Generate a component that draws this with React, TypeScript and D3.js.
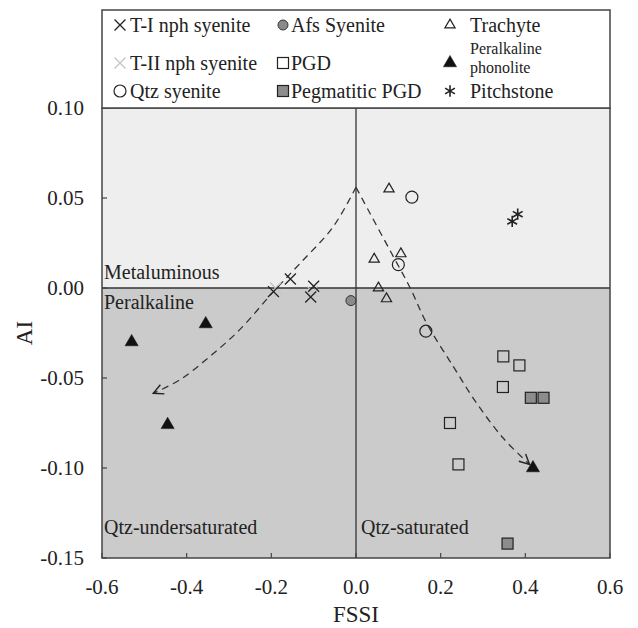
import React from "react";
import * as d3 from "d3";

// ---- data ----
const t1X = [-0.195, -0.155, -0.1, -0.107];
const t1Y = [-0.002, 0.005, 0.001, -0.005];
const t2X = [-0.19, -0.103];
const t2Y = [0.0, -0.002];
const afsX = [-0.012];
const afsY = [-0.007];
const qtzX = [0.132, 0.1, 0.165];
const qtzY = [0.0505, 0.013, -0.024];
const pgdX = [0.348, 0.386, 0.347, 0.222, 0.242];
const pgdY = [-0.038, -0.043, -0.055, -0.075, -0.098];
const pegX = [0.413, 0.443, 0.358];
const pegY = [-0.061, -0.061, -0.142];
const traX = [0.078, 0.043, 0.106, 0.053, 0.072];
const traY = [0.055, 0.016, 0.019, 0.0, -0.006];
const phoX = [-0.355, -0.53, -0.445, 0.418];
const phoY = [-0.02, -0.03, -0.076, -0.1];
const pitX = [0.382, 0.369];
const pitY = [0.041, 0.037];

const leftTrendX = [0.0, -0.054, -0.132, -0.195, -0.274, -0.345, -0.416, -0.479];
const leftTrendY = [0.056, 0.034, 0.0137, -0.002, -0.023, -0.038, -0.051, -0.0585];
const rightTrendX = [0.0, 0.033, 0.084, 0.128, 0.167, 0.23, 0.285, 0.348, 0.41];
const rightTrendY = [0.056, 0.0415, 0.0193, 0.0, -0.0196, -0.0437, -0.064, -0.0835, -0.098];

const xTicks = [-0.6, -0.4, -0.2, 0.0, 0.2, 0.4, 0.6];
const yTicks = [0.1, 0.05, 0.0, -0.05, -0.1, -0.15];

const W = 638;
const H = 628;
const L = 102, R = 610, T = 108, B = 558;
const FONT = "'Liberation Serif', 'Times New Roman', serif";

const x = d3.scaleLinear().domain([-0.6, 0.6]).range([L, R]);
const y = d3.scaleLinear().domain([-0.15, 0.1]).range([B, T]);

type Kind = "x1" | "x2" | "afs" | "qtz" | "pgd" | "peg" | "tra" | "pho" | "pit";

function Marker({ kind, cx, cy }: { kind: Kind; cx: number; cy: number }) {
  const tr = `translate(${cx},${cy})`;
  switch (kind) {
    case "x1":
      return <path transform={tr} d={d3.symbol(d3.symbolTimes, 80)()!} fill="none" stroke="#222" strokeWidth={1.3} />;
    case "x2":
      return <path transform={tr} d={d3.symbol(d3.symbolTimes, 80)()!} fill="none" stroke="#c4c4c4" strokeWidth={1.3} />;
    case "afs":
      return <circle cx={cx} cy={cy} r={5} fill="#8a8a8a" stroke="#333" strokeWidth={1} />;
    case "qtz":
      return <circle cx={cx} cy={cy} r={6} fill="none" stroke="#222" strokeWidth={1.2} />;
    case "pgd":
      return <rect x={cx - 5.5} y={cy - 5.5} width={11} height={11} fill="none" stroke="#222" strokeWidth={1.2} />;
    case "peg":
      return <rect x={cx - 5.5} y={cy - 5.5} width={11} height={11} fill="#8c8c8c" stroke="#222" strokeWidth={1.2} />;
    case "tra":
      return <path transform={tr} d={d3.symbol(d3.symbolTriangle2, 75)()!} fill="none" stroke="#222" strokeWidth={1.2} />;
    case "pho":
      return <path transform={tr} d={d3.symbol(d3.symbolTriangle, 75)()!} fill="#111" stroke="#111" strokeWidth={0.5} />;
    case "pit":
      return <path transform={tr} d={d3.symbol(d3.symbolAsterisk, 90)()!} fill="none" stroke="#222" strokeWidth={1.6} />;
  }
  return null;
}

const series: { kind: Kind; xs: number[]; ys: number[] }[] = [
  { kind: "x2", xs: t2X, ys: t2Y },
  { kind: "x1", xs: t1X, ys: t1Y },
  { kind: "afs", xs: afsX, ys: afsY },
  { kind: "qtz", xs: qtzX, ys: qtzY },
  { kind: "pgd", xs: pgdX, ys: pgdY },
  { kind: "peg", xs: pegX, ys: pegY },
  { kind: "tra", xs: traX, ys: traY },
  { kind: "pho", xs: phoX, ys: phoY },
  { kind: "pit", xs: pitX, ys: pitY },
];

const legendItems: { kind: Kind; label: string[]; col: number; row: number }[] = [
  { kind: "x1", label: ["T-I nph syenite"], col: 0, row: 0 },
  { kind: "x2", label: ["T-II nph syenite"], col: 0, row: 1 },
  { kind: "qtz", label: ["Qtz syenite"], col: 0, row: 2 },
  { kind: "afs", label: ["Afs Syenite"], col: 1, row: 0 },
  { kind: "pgd", label: ["PGD"], col: 1, row: 1 },
  { kind: "peg", label: ["Pegmatitic PGD"], col: 1, row: 2 },
  { kind: "tra", label: ["Trachyte"], col: 2, row: 0 },
  { kind: "pho", label: ["Peralkaline", "phonolite"], col: 2, row: 1 },
  { kind: "pit", label: ["Pitchstone"], col: 2, row: 2 },
];
const colMarkX = [120, 283, 450];
const colTextX = [130, 291, 470];
const rowY = [25, 63, 91];

export default function App() {
  const line = d3
    .line<[number, number]>()
    .x((d) => x(d[0]))
    .y((d) => y(d[1]))
    .curve(d3.curveCatmullRom.alpha(0.5));
  const leftPts = leftTrendX.map((v, i) => [v, leftTrendY[i]] as [number, number]);
  const rightPts = rightTrendX.map((v, i) => [v, rightTrendY[i]] as [number, number]);

  return (
    <svg
      width={W}
      height={H}
      style={{ position: "absolute", left: 0, top: 0, background: "#fff" }}
      fontFamily={FONT}
    >
      <defs>
        <marker id="arr" viewBox="0 0 12 12" refX="11" refY="6" markerWidth="12" markerHeight="12" markerUnits="userSpaceOnUse" orient="auto">
          <path d="M1,1 L11,6 L1,11" fill="none" stroke="#222" strokeWidth={1.4} />
        </marker>
      </defs>
      {/* backgrounds */}
      <rect x={L} y={T} width={R - L} height={y(0) - T} fill="#eeeeee" />
      <rect x={L} y={y(0)} width={R - L} height={B - y(0)} fill="#cbcbcb" />

      {/* zero lines */}
      <line x1={x(0)} x2={x(0)} y1={T} y2={B} stroke="#333" strokeWidth={1.3} />
      <line x1={L} x2={R} y1={y(0)} y2={y(0)} stroke="#333" strokeWidth={1.3} />

      {/* trend lines */}
      <path d={line(leftPts)!} fill="none" stroke="#333" strokeWidth={1.3} strokeDasharray="7,5" markerEnd="url(#arr)" />
      <path d={line(rightPts)!} fill="none" stroke="#333" strokeWidth={1.3} strokeDasharray="7,5" markerEnd="url(#arr)" />

      {/* points */}
      {series.map((s) =>
        s.xs.map((v, i) => <Marker key={s.kind + i} kind={s.kind} cx={x(v)} cy={y(s.ys[i])} />)
      )}

      {/* region labels */}
      <g fontSize={20} fill="#222">
        <text x={L + 2} y={y(0) - 9}>Metaluminous</text>
        <text x={L + 2} y={y(0) + 21}>Peralkaline</text>
        <text x={L + 2} y={534}>Qtz-undersaturated</text>
        <text x={x(0) + 5} y={534}>Qtz-saturated</text>
      </g>

      {/* frame */}
      <rect x={L} y={T} width={R - L} height={B - T} fill="none" stroke="#444" strokeWidth={1.5} />

      {/* ticks */}
      {xTicks.map((t) => (
        <g key={"xt" + t}>
          <line x1={x(t)} x2={x(t)} y1={B} y2={B - 5} stroke="#444" strokeWidth={1.2} />
          <text x={x(t)} y={594} textAnchor="middle" fontSize={21} fill="#222">
            {d3.format(".1f")(t).replace("−", "-")}
          </text>
        </g>
      ))}
      {yTicks.map((t) => (
        <g key={"yt" + t}>
          <line x1={L} x2={L + 5} y1={y(t)} y2={y(t)} stroke="#444" strokeWidth={1.2} />
          <text x={84} y={y(t)} dy="0.35em" textAnchor="end" fontSize={21} fill="#222">
            {d3.format(".2f")(t).replace("−", "-")}
          </text>
        </g>
      ))}

      {/* axis titles */}
      <text x={(L + R) / 2} y={622} textAnchor="middle" fontSize={23} fill="#222">FSSI</text>
      <text transform={`translate(32,${(T + B) / 2}) rotate(-90)`} textAnchor="middle" fontSize={23} fill="#222">AI</text>

      {/* legend */}
      <rect x={L} y={10} width={R - L} height={T - 10} fill="#fff" stroke="#444" strokeWidth={1.5} />
      {legendItems.map((it, i) => (
        <g key={"lg" + i}>
          <Marker kind={it.kind} cx={colMarkX[it.col]} cy={rowY[it.row]} />
          {it.label.length === 1 ? (
            <text x={colTextX[it.col]} y={rowY[it.row]} dy="0.35em" fontSize={20} fill="#222">
              {it.label[0]}
            </text>
          ) : (
            <g fontSize={16} fill="#222">
              <text x={colTextX[it.col]} y={54}>{it.label[0]}</text>
              <text x={colTextX[it.col]} y={73}>{it.label[1]}</text>
            </g>
          )}
        </g>
      ))}
    </svg>
  );
}
